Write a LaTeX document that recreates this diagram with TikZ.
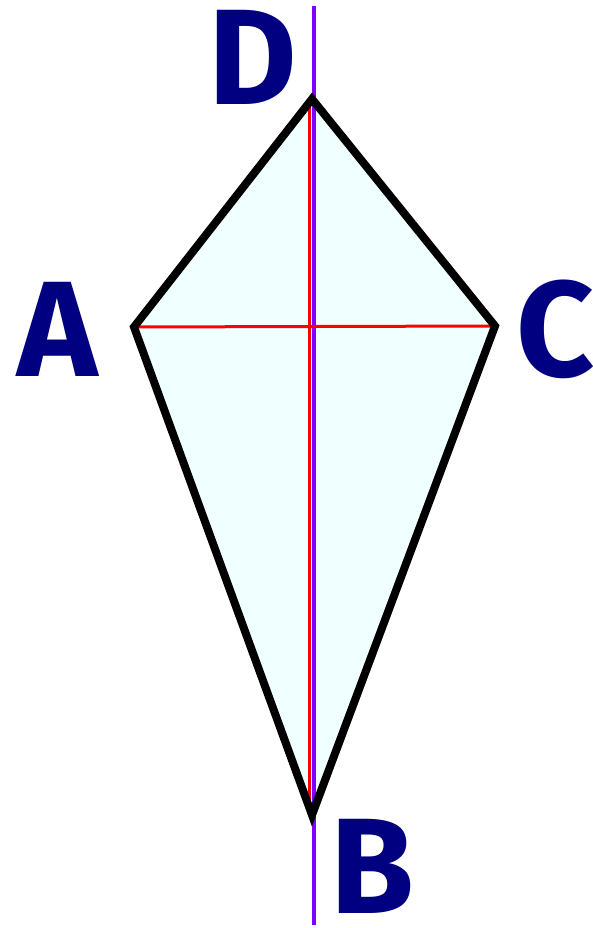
\documentclass[tikz,border=0pt]{standalone}
\usepackage{fontspec}
\setmainfont{Fira Sans}
\usepackage{xcolor}
\definecolor{kitefill}{HTML}{F0FFFF}
\definecolor{navy}{HTML}{000080}
\definecolor{axis}{HTML}{8000FF}
\definecolor{diag}{HTML}{FF0000}
\tikzset{
  vlabel/.style={text=navy, font=\fontsize{136}{136}\selectfont\bfseries, inner sep=0pt},
}

\begin{document}
\begin{tikzpicture}[x=1pt,y=-1pt]
  \useasboundingbox (0,0) rectangle (593,928);
  % vertices of the kite
  \coordinate (D) at (312,99);
  \coordinate (A) at (134,327);
  \coordinate (C) at (495,326);
  \coordinate (B) at (312,815);
  \coordinate (top) at (314,6);
  \coordinate (bot) at (314,925);
  % body
  \fill[kitefill] (D) -- (C) -- (B) -- (A) -- cycle;
  % symmetry axis
  \draw[axis, line width=4pt] (top) -- (bot);
  % diagonals
  \draw[diag, line width=3pt] (A) -- (C);
  \draw[diag, line width=3pt] ([xshift=-3pt]D) -- ([xshift=-3pt]B);
  % outline
  \draw[line width=8pt, line join=miter] (D) -- (C) -- (B) -- (A) -- cycle;
  % labels
  \node[vlabel] (lD) at (253,57) {D};
  \node[vlabel] (lA) at (58,329) {A};
  \node[vlabel] (lC) at (556,329) {C};
  \node[vlabel] (lB) at (372,866) {B};
\end{tikzpicture}
\end{document}
